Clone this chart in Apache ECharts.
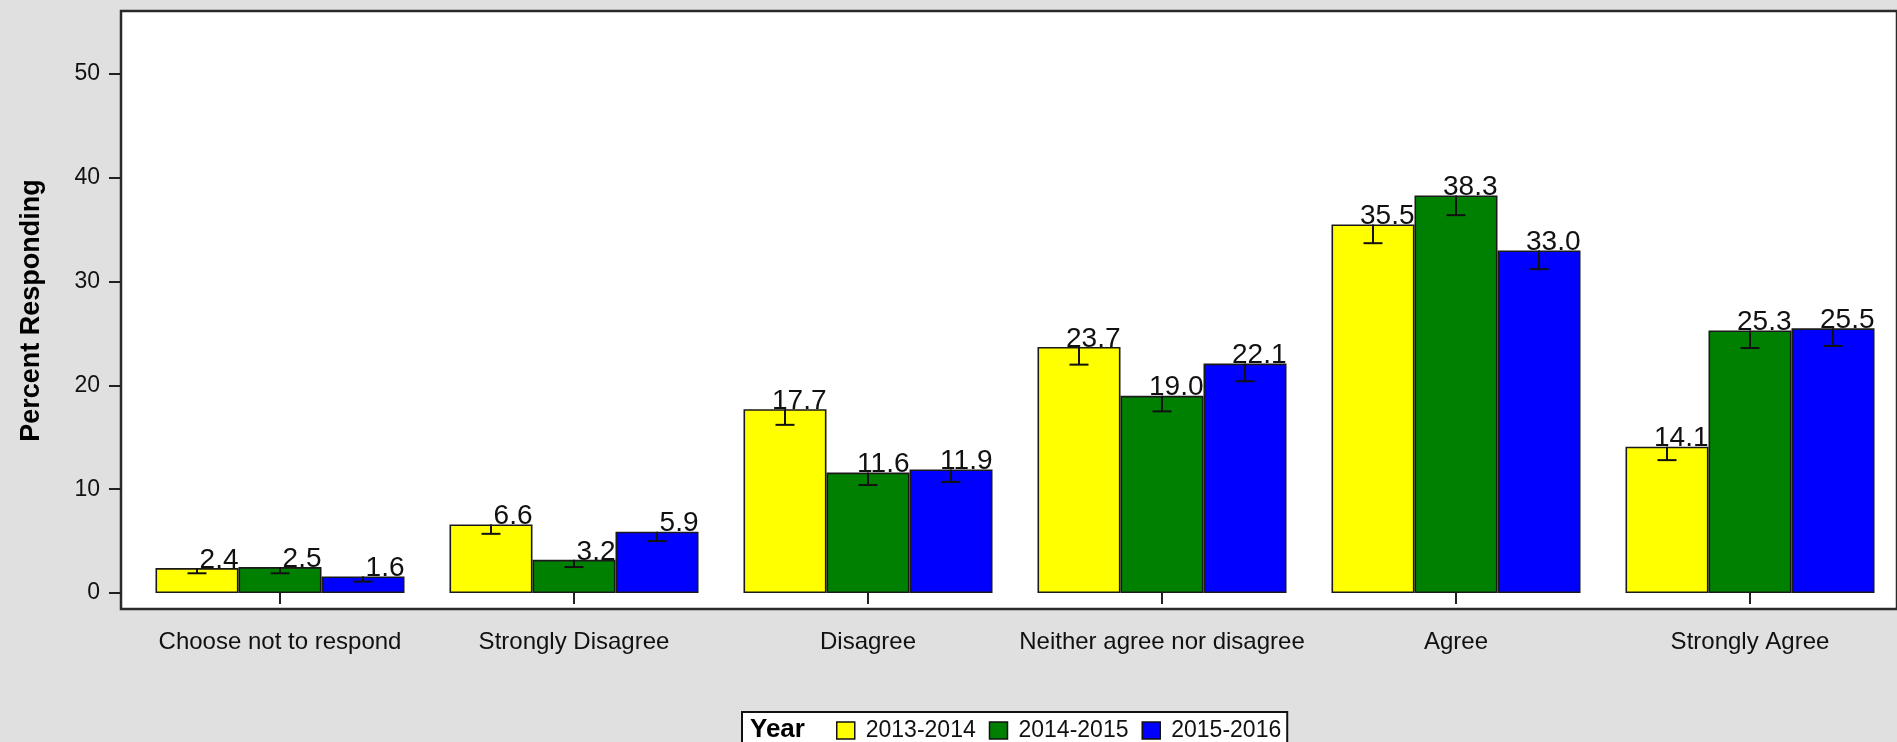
<!DOCTYPE html>
<html>
<head>
<meta charset="utf-8">
<script src="https://cdn.jsdelivr.net/npm/echarts@6/dist/echarts.min.js"></script>
<style>
html,body{margin:0;padding:0;background:#e0e0e0;}
#chart{width:1897px;height:742px;}
</style>
</head>
<body>
<div id="chart"></div>
<script>
const categories = ['Choose not to respond','Strongly Disagree','Disagree','Neither agree nor disagree','Agree','Strongly Agree'];
const seriesNames = ['2013-2014','2014-2015','2015-2016'];
const colors = ['#ffff00','#008000','#0000ff'];
const values2013 = [2.4, 6.6, 17.7, 23.7, 35.5, 14.1];
const values2014 = [2.5, 3.2, 11.6, 19.0, 38.3, 25.3];
const values2015 = [1.6, 5.9, 11.9, 22.1, 33.0, 25.5];
const lower2013 = [1.9, 5.7, 16.2, 22.0, 33.7, 12.8];
const lower2014 = [1.9, 2.5, 10.4, 17.5, 36.4, 23.6];
const lower2015 = [1.1, 5.0, 10.7, 20.4, 31.2, 23.8];
const yTicks = [0, 10, 20, 30, 40, 50];

const allValues = [values2013, values2014, values2015];
const allLower = [lower2013, lower2014, lower2015];
const catGap = 0.153;
const FONT = 'Liberation Sans, Arial, sans-serif';

const chart = echarts.init(document.getElementById('chart'));

const barSeries = allValues.map((vals, i) => ({
  name: seriesNames[i],
  type: 'bar',
  xAxisIndex: 0, yAxisIndex: 0,
  data: vals,
  barGap: '0%',
  barCategoryGap: (catGap * 100) + '%',
  itemStyle: { color: colors[i], borderColor: '#1a1a1a', borderWidth: 1.6 },
  label: {
    show: true,
    position: ['100%', 0],
    align: 'right',
    verticalAlign: 'bottom',
    offset: [0, 6],
    formatter: p => p.value.toFixed(1),
    fontFamily: FONT,
    fontSize: 28,
    color: '#111'
  },
  z: 2
}));

const errSeries = allValues.map((vals, i) => ({
  name: seriesNames[i] + ' err',
  type: 'custom',
  xAxisIndex: 0, yAxisIndex: 0,
  data: vals.map((v, k) => [k, v, allLower[i][k]]),
  encode: { x: 0, y: [1, 2] },
  z: 5,
  silent: true,
  renderItem: function (params, api) {
    const top = api.coord([api.value(0), api.value(1)]);
    const lo = api.coord([api.value(0), api.value(2)]);
    const band = api.size([1, 0])[0];
    const bw = band * (1 - catGap) / 3;
    const x = top[0] + (i - 1) * bw;
    const cap = 9.5;
    const st = { stroke: '#111', lineWidth: 2 };
    return {
      type: 'group',
      children: [
        { type: 'line', shape: { x1: x, y1: top[1], x2: x, y2: lo[1] }, style: st },
        { type: 'line', shape: { x1: x - cap, y1: lo[1], x2: x + cap, y2: lo[1] }, style: st }
      ]
    };
  }
}));

const option = {
  backgroundColor: '#e0e0e0',
  animation: false,
  textStyle: { fontFamily: FONT },
  title: {
    text: 'Year',
    left: 750,
    top: 717,
    z: 10,
    padding: 0,
    textStyle: { fontFamily: FONT, fontWeight: 'bold', fontSize: 26, color: '#000' }
  },
  legend: {
    data: seriesNames.map((n, i) => ({ name: n, icon: 'rect', itemStyle: { color: colors[i], borderColor: '#111', borderWidth: 1.5 } })),
    left: 742,
    top: 712,
    orient: 'horizontal',
    padding: [7, 6, 20, 94],
    itemWidth: 18,
    itemHeight: 17,
    itemGap: 13,
    backgroundColor: '#fff',
    borderColor: '#111',
    borderWidth: 2,
    selectedMode: false,
    textStyle: { fontFamily: FONT, fontSize: 23, color: '#111', padding: [0, 0, 0, 6] }
  },
  grid: [
    { left: 133, right: 0, top: 74, bottom: 149, containLabel: false },
    { left: 121, right: -10, top: 11, bottom: 133, show: true, backgroundColor: '#ffffff', borderColor: '#2a2a2a', borderWidth: 2.5, z: 0 }
  ],
  xAxis: [
    {
      type: 'category', gridIndex: 0, data: categories, offset: 16,
      axisLine: { show: false },
      axisTick: { show: true, alignWithLabel: true, length: 11, lineStyle: { color: '#222', width: 2 } },
      axisLabel: { interval: 0, margin: 21, fontSize: 24, color: '#111', fontFamily: FONT }
    },
    { type: 'value', gridIndex: 1, show: false, min: 0, max: 1 }
  ],
  yAxis: [
    {
      type: 'value', gridIndex: 0, min: yTicks[0], max: yTicks[yTicks.length - 1], interval: 10, offset: 12,
      name: 'Percent Responding', nameLocation: 'middle', nameGap: 76,
      nameTextStyle: { fontFamily: FONT, fontWeight: 'bold', fontSize: 27, color: '#000', padding: [0, 0, 0, 46] },
      axisLine: { show: false },
      splitLine: { show: false },
      axisTick: { show: true, length: 12, lineStyle: { color: '#222', width: 2 } },
      axisLabel: { margin: 21, fontSize: 23, color: '#111', fontFamily: FONT }
    },
    { type: 'value', gridIndex: 1, show: false, min: 0, max: 1 }
  ],
  series: barSeries.concat(errSeries)
};
chart.setOption(option);
</script>
</body>
</html>
